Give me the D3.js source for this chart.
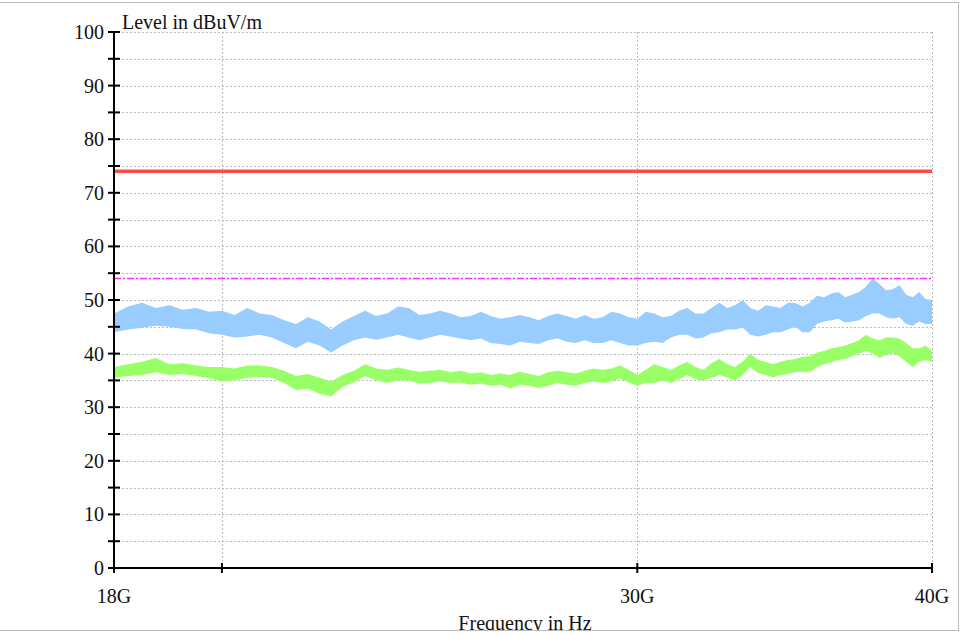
<!DOCTYPE html>
<html>
<head>
<meta charset="utf-8">
<script src="https://cdn.jsdelivr.net/npm/d3@7"></script>
<style>
  body { margin: 0; background: #fff; }
  svg { display: block; }
  text { font-family: "Liberation Serif", "DejaVu Serif", serif; fill: #111; }
</style>
</head>
<body>
<svg id="chart" width="961" height="635"></svg>
<script>
// frequency points in GHz
const freqs = [
  18.0, 18.25, 18.5, 18.75, 19.0, 19.25, 19.5, 19.75, 20.0, 20.25, 20.5, 20.75,
  21.0, 21.25, 21.5, 21.75, 22.0, 22.25, 22.5, 22.75, 23.0, 23.25, 23.5, 23.75,
  24.0, 24.25, 24.5, 24.75, 25.0, 25.25, 25.5, 25.75, 26.0, 26.25, 26.5, 26.75,
  27.0, 27.25, 27.5, 27.75, 28.0, 28.25, 28.5, 28.75, 29.0, 29.25, 29.5, 29.75,
  30.0, 30.25, 30.5, 30.75, 31.0, 31.25, 31.5, 31.75, 32.0, 32.25, 32.5, 32.75,
  33.0, 33.25, 33.5, 33.75, 34.0, 34.25, 34.5, 34.75, 35.0, 35.25, 35.5, 35.75,
  36.0, 36.25, 36.5, 36.75, 37.0, 37.25, 37.5, 37.75, 38.0, 38.25, 38.5, 38.75,
  39.0, 39.25, 39.5, 39.75, 40.0];

// peak trace (blue band), upper/lower envelope in dBuV/m
const peakHigh = [
  47.5, 48.8, 49.5, 48.5, 49.0, 48.2, 48.5, 47.8, 48.0, 47.2, 48.5, 47.5,
  47.2, 46.2, 45.5, 46.8, 46.0, 44.5, 46.0, 47.0, 48.0, 47.0, 47.5, 48.8,
  48.5, 47.2, 47.5, 48.0, 47.5, 46.8, 47.0, 47.8, 47.0, 46.5, 46.8, 47.2,
  46.8, 46.2, 47.0, 47.5, 47.0, 46.5, 47.2, 46.5, 46.8, 47.8, 47.5, 46.8,
  46.5, 47.8, 47.5, 46.8, 47.0, 48.0, 48.5, 47.5, 47.5, 48.5, 49.5, 48.5,
  49.0, 50.0, 48.5, 48.0, 49.0, 48.8, 48.5, 49.5, 49.5, 48.8, 49.5, 50.8,
  50.5, 51.2, 51.5, 50.5, 51.0, 51.5, 52.5, 54.0, 53.0, 51.8, 52.0, 52.8,
  51.0, 50.5, 51.5, 50.2, 50.0];
const peakLow = [
  44.0, 44.5, 44.8, 45.2, 45.0, 44.6, 44.5, 43.8, 43.5, 43.0, 43.2, 43.5,
  43.0, 42.0, 41.0, 42.2, 41.5, 40.2, 41.5, 42.5, 43.0, 42.6, 43.0, 43.5,
  43.0, 42.5, 43.0, 43.5, 43.2, 42.8, 42.5, 42.8, 42.0, 41.8, 41.5, 42.2,
  42.0, 41.8, 42.5, 42.8, 42.2, 42.0, 42.5, 42.0, 42.0, 42.5, 42.0, 41.5,
  41.5, 42.0, 42.2, 42.0, 43.0, 43.5, 43.5, 42.8, 43.0, 43.8, 44.0, 44.5,
  44.5, 44.8, 43.5, 43.2, 43.5, 44.0, 44.0, 44.5, 45.0, 44.0, 44.0, 45.5,
  46.0, 46.2, 46.5, 45.8, 46.0, 46.2, 47.0, 47.5, 47.5, 46.8, 46.5, 46.8,
  45.5, 45.2, 46.0, 45.5, 45.5];

// average trace (green band)
const avgHigh = [
  37.5, 38.0, 38.5, 39.2, 38.0, 38.2, 37.8, 37.5, 37.5, 37.2, 37.8, 37.8,
  37.5, 36.8, 35.8, 36.2, 35.5, 34.8, 36.0, 36.8, 38.0, 37.2, 37.0, 37.4,
  37.0, 36.6, 36.8, 37.0, 36.5, 36.8, 36.3, 36.5, 36.0, 36.3, 36.0, 36.6,
  36.2, 35.8, 36.5, 36.8, 36.5, 36.3, 36.8, 37.2, 37.0, 37.2, 37.8, 37.0,
  36.0, 37.0, 38.0, 37.5, 37.0, 37.8, 38.5, 37.5, 37.0, 38.2, 39.0, 38.0,
  37.5, 38.5, 40.0, 38.8, 38.5, 38.0, 38.5, 38.8, 39.0, 39.4, 39.5, 40.2,
  40.5, 41.0, 41.2, 41.5, 42.0, 42.5, 43.5, 42.8, 42.5, 43.0, 43.0, 42.8,
  42.0, 41.0, 41.0, 41.5, 40.5];
const avgLow = [
  35.5, 35.8, 36.0, 36.5, 36.0, 36.2, 35.8, 35.4, 34.8, 35.0, 35.5, 35.6,
  35.5, 34.5, 33.2, 33.5, 32.5, 32.0, 33.8, 34.6, 35.8, 35.0, 34.5, 35.0,
  35.0, 34.4, 34.5, 34.8, 34.5, 34.6, 34.2, 34.4, 34.0, 34.2, 33.5, 34.2,
  34.0, 33.6, 34.0, 34.5, 34.2, 34.0, 34.5, 34.8, 34.5, 34.8, 35.4, 34.6,
  34.0, 34.5, 34.5, 35.0, 34.5, 35.2, 36.0, 35.2, 35.0, 35.5, 36.0, 35.6,
  35.0, 36.0, 37.5, 36.4, 36.0, 35.6, 36.0, 36.2, 36.5, 36.6, 36.5, 37.5,
  38.0, 38.4, 38.8, 39.0, 39.5, 40.0, 40.5, 40.0, 39.2, 39.8, 40.0, 39.5,
  38.5, 37.5, 38.5, 38.8, 38.5];

// limit lines
const peakLimit = 74;
const avgLimit = 54;

const yMajor = [0, 10, 20, 30, 40, 50, 60, 70, 80, 90, 100];
const yGrid = d3.range(5, 101, 5);
const xTicks = [18, 20, 30, 40];
const xLabels = {18: '18G', 30: '30G', 40: '40G'};

const svg = d3.select('#chart');
const plot = {left: 114, right: 932, top: 32, bottom: 568};

const x = d3.scaleLog().domain([18, 40]).range([plot.left, plot.right]);
const y = d3.scaleLinear().domain([0, 100]).range([plot.bottom, plot.top]);

// grid
const grid = svg.append('g').attr('stroke', '#bbb').attr('stroke-dasharray', '2,2').attr('stroke-width', 1);
grid.selectAll('line.h').data(yGrid).join('line')
  .attr('x1', plot.left).attr('x2', plot.right)
  .attr('y1', d => Math.round(y(d)) + 0.5).attr('y2', d => Math.round(y(d)) + 0.5);
grid.selectAll('line.v').data([20, 30, 40]).join('line')
  .attr('x1', d => Math.round(x(d)) + 0.5).attr('x2', d => Math.round(x(d)) + 0.5)
  .attr('y1', plot.top).attr('y2', plot.bottom);

// bands
const rows = freqs.map((f, i) => ({f, ph: peakHigh[i], pl: peakLow[i], ah: avgHigh[i], al: avgLow[i]}));
svg.append('path').datum(rows)
  .attr('fill', '#99ccff')
  .attr('d', d3.area().x(d => x(d.f)).y0(d => y(d.pl)).y1(d => y(d.ph)));
svg.append('path').datum(rows)
  .attr('fill', '#99ff66')
  .attr('d', d3.area().x(d => x(d.f)).y0(d => y(d.al)).y1(d => y(d.ah)));

// limits
svg.append('line')
  .attr('x1', plot.left).attr('x2', plot.right)
  .attr('y1', y(peakLimit)).attr('y2', y(peakLimit))
  .attr('stroke', '#ff4a4a').attr('stroke-width', 3.5);
svg.append('line')
  .attr('x1', plot.left).attr('x2', plot.right)
  .attr('y1', y(avgLimit)).attr('y2', y(avgLimit))
  .attr('stroke', '#ff33ff').attr('stroke-width', 1.6)
  .attr('stroke-dasharray', '7,2,2,2');

// y axis
const yAxis = svg.append('g').attr('stroke', '#000').attr('stroke-width', 2);
yAxis.append('line').attr('x1', plot.left).attr('x2', plot.left).attr('y1', plot.top - 1).attr('y2', plot.bottom + 1);
yAxis.selectAll('line.t').data(yGrid.concat([0])).join('line')
  .attr('x1', plot.left - 6).attr('x2', plot.left + 6)
  .attr('y1', d => y(d)).attr('y2', d => y(d));
svg.append('g').selectAll('text').data(yMajor).join('text')
  .attr('x', plot.left - 10).attr('y', d => y(d) + 7)
  .attr('text-anchor', 'end').attr('font-size', 20)
  .text(d => d);

// x axis
const xAxis = svg.append('g').attr('stroke', '#000').attr('stroke-width', 2);
xAxis.append('line').attr('x1', plot.left - 1).attr('x2', plot.right + 1).attr('y1', plot.bottom).attr('y2', plot.bottom);
xAxis.selectAll('line.t').data(xTicks).join('line')
  .attr('x1', d => x(d)).attr('x2', d => x(d))
  .attr('y1', plot.bottom - 5).attr('y2', plot.bottom + 5);
svg.append('g').selectAll('text').data(xTicks.filter(d => xLabels[d])).join('text')
  .attr('x', d => x(d)).attr('y', plot.bottom + 35)
  .attr('text-anchor', 'middle').attr('font-size', 20)
  .text(d => xLabels[d]);

// axis titles
svg.append('text').attr('x', plot.left + 8).attr('y', plot.top - 3)
  .attr('font-size', 20).text('Level in dBuV/m');
svg.append('text').attr('x', 525).attr('y', 630)
  .attr('text-anchor', 'middle').attr('font-size', 20).text('Frequency in Hz');

// crop strip below the frame, then the outer frame
svg.append('rect').attr('x', 0).attr('y', 631).attr('width', 961).attr('height', 4).attr('fill', '#fff');
svg.append('rect')
  .attr('x', -1).attr('y', 2.5).attr('width', 959.5).attr('height', 628)
  .attr('fill', 'none').attr('stroke', '#bbb').attr('stroke-width', 1);
</script>
</body>
</html>
